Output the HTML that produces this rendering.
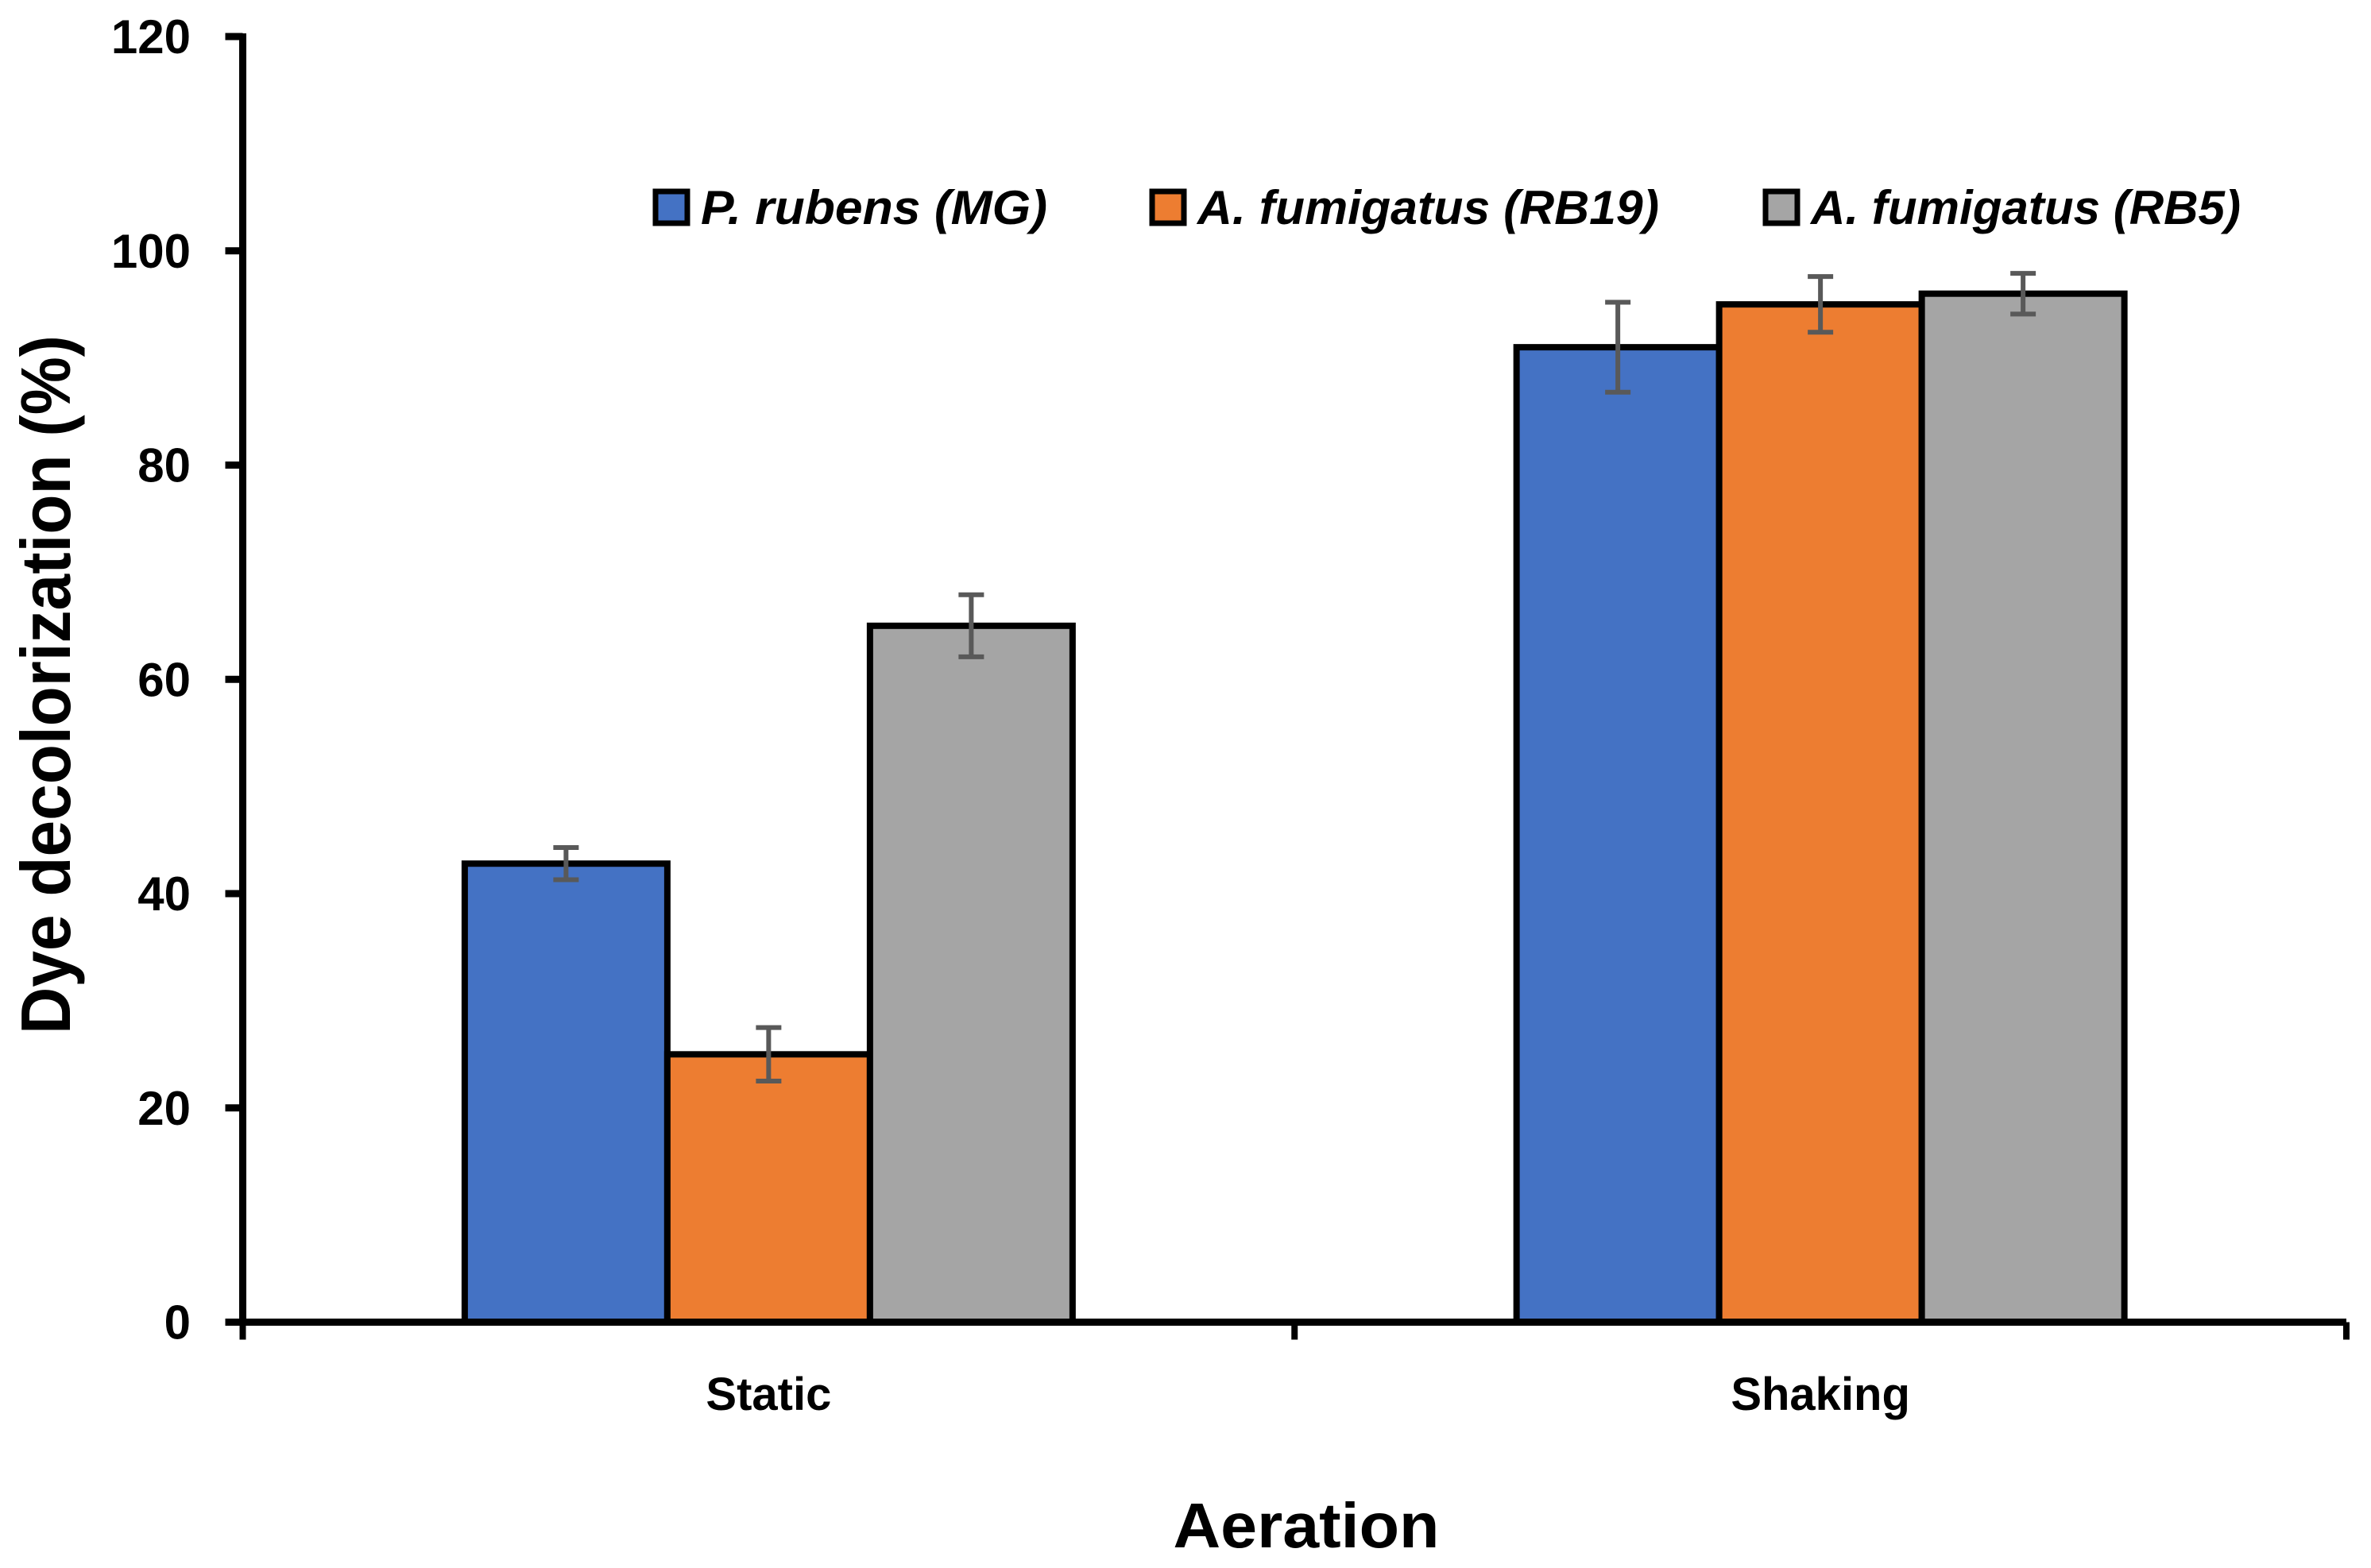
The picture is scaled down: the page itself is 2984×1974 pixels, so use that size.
<!DOCTYPE html>
<html><head><meta charset="utf-8"><style>
html,body{margin:0;padding:0;background:#fff}
svg{display:block}
text{font-family:"Liberation Sans",sans-serif;font-weight:bold;fill:#000}
</style></head><body>
<svg id="chart" width="2984" height="1974" viewBox="0 0 2984 1974" xmlns="http://www.w3.org/2000/svg">
<g id="plot"></g>
<text transform="translate(88,862) rotate(-90)" text-anchor="middle" font-size="88" textLength="880" lengthAdjust="spacingAndGlyphs">Dye decolorization (%)</text>
<text x="1644" y="1948" text-anchor="middle" font-size="80" textLength="335" lengthAdjust="spacingAndGlyphs">Aeration</text>
</svg>
<script>
const categories = ["Static", "Shaking"];
const seriesNames = ["P. rubens (MG)", "A. fumigatus (RB19)", "A. fumigatus (RB5)"];
const seriesColors = ["#4472C4", "#ED7D31", "#A5A5A5"];
const valuesMG = [42.8, 91];
const valuesRB19 = [25, 95];
const valuesRB5 = [65, 96];
const errMG = [1.5, 4.2];
const errRB19 = [2.5, 2.6];
const errRB5 = [2.9, 1.9];
const yTicks = [0, 20, 40, 60, 80, 100, 120];

const NS = "http://www.w3.org/2000/svg";
const plot = document.getElementById("plot");
const X0 = 305.5, X1 = 2953, Y0 = 1664.5, YTOP = 46, YMAX = 120;
const catW = (X1 - X0) / categories.length;
const barW = 255;
function y(v){ return Y0 - v / YMAX * (Y0 - YTOP); }
function catCenter(i){ return X0 + catW * (i + 0.5); }
function mk(tag, attrs){ const e = document.createElementNS(NS, tag); for (const k in attrs) e.setAttribute(k, attrs[k]); plot.appendChild(e); return e; }

const allVals = [valuesMG, valuesRB19, valuesRB5];
const allErr = [errMG, errRB19, errRB5];
const keys = ["mg", "rb19", "rb5"];

categories.forEach((c, ci) => {
  const left = catCenter(ci) - barW * 1.5;
  allVals.forEach((vals, si) => {
    const bx = left + si * barW;
    const r = mk("rect", {x: bx, y: y(vals[ci]), width: barW, height: Y0 - y(vals[ci]), fill: seriesColors[si], stroke: "#000", "stroke-width": 8});
    
    
  });
});
categories.forEach((c, ci) => {
  const left = catCenter(ci) - barW * 1.5;
  allVals.forEach((vals, si) => {
    const cx = left + si * barW + barW / 2;
    const hi = y(vals[ci] + allErr[si][ci]), lo = y(vals[ci] - allErr[si][ci]);
    const g = mk("g", {stroke: "#595959", "stroke-width": 6});
    
    
    [[cx, hi, cx, lo], [cx - 16, hi, cx + 16, hi], [cx - 16, lo, cx + 16, lo]].forEach(p => {
      const l = document.createElementNS(NS, "line");
      l.setAttribute("x1", p[0]); l.setAttribute("y1", p[1]); l.setAttribute("x2", p[2]); l.setAttribute("y2", p[3]);
      g.appendChild(l);
    });
  });
});

const ya = mk("line", {x1: X0, y1: YTOP - 4, x2: X0, y2: Y0 + 4, stroke: "#000", "stroke-width": 9});


const xa = mk("line", {x1: X0 - 20, y1: Y0, x2: X1, y2: Y0, stroke: "#000", "stroke-width": 9});


yTicks.forEach(t => {
  const tk = mk("line", {x1: X0 - 22, y1: y(t), x2: X0, y2: y(t), stroke: "#000", "stroke-width": 9});
  
  
  const tl = mk("text", {x: 240, y: y(t) + 21, "text-anchor": "end", "font-size": 60});
  tl.textContent = t;
  
  
});
for (let i = 0; i <= categories.length; i++) {
  const tk = mk("line", {x1: X0 + catW * i, y1: Y0, x2: X0 + catW * i, y2: Y0 + 22, stroke: "#000", "stroke-width": 8});
  
  
}
categories.forEach((c, ci) => {
  const tl = mk("text", {x: catCenter(ci), y: 1775, "text-anchor": "middle", "font-size": 58});
  tl.textContent = c;
  
  
});

const legX = [822, 1447, 2219];
const legTextEnd = [1318, 2088, 2820];
seriesNames.forEach((n, si) => {
  const g = mk("g", {});
  
  
  const r = document.createElementNS(NS, "rect");
  r.setAttribute("x", legX[si] + 3); r.setAttribute("y", 241); r.setAttribute("width", 40); r.setAttribute("height", 40);
  r.setAttribute("fill", seriesColors[si]); r.setAttribute("stroke", "#000"); r.setAttribute("stroke-width", 7);
  
  
  g.appendChild(r);
  const t = document.createElementNS(NS, "text");
  t.setAttribute("x", legX[si] + 60); t.setAttribute("y", 282);
  t.setAttribute("font-size", 60); t.setAttribute("font-style", "italic");
  t.setAttribute("textLength", legTextEnd[si] - legX[si] - 60);
  t.setAttribute("lengthAdjust", "spacingAndGlyphs");
  t.textContent = n;
  
  
  g.appendChild(t);
});
</script>
</body></html>
